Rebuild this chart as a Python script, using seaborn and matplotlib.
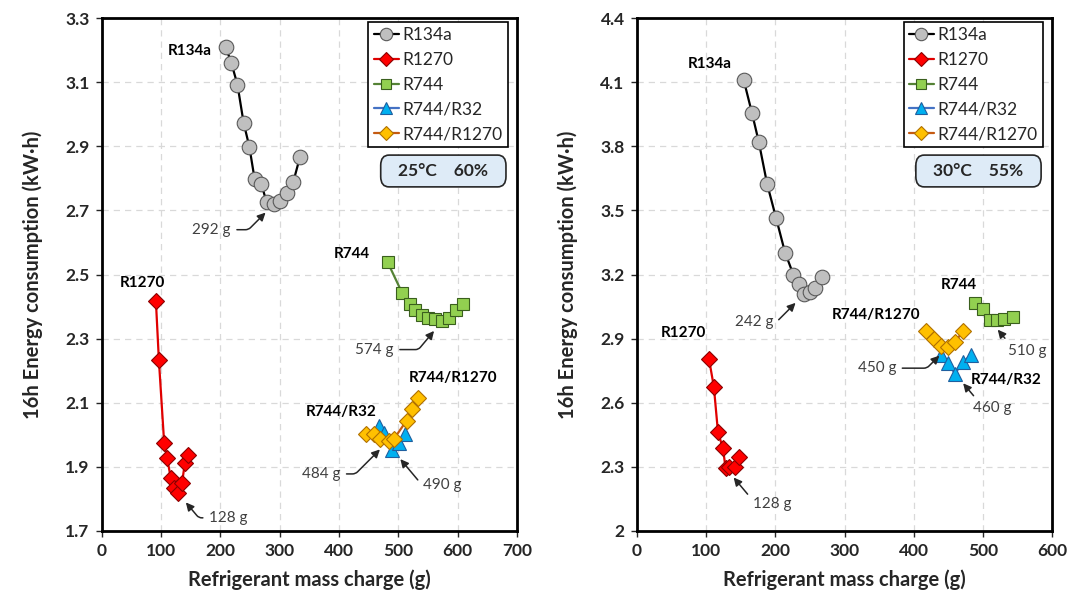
import numpy as np
import pandas as pd
import matplotlib
matplotlib.use("Agg")
import matplotlib.pyplot as plt
import seaborn as sns
from matplotlib.patches import FancyBboxPatch

# ---- data: left panel (25°C, 60%) ----
l_r134a_x = [209, 218.5, 228.6, 239, 248.7, 257.6, 268.9, 277.8, 291, 300, 312.6, 322.7, 334]
l_r134a_y = [3.209, 3.159, 3.093, 2.974, 2.899, 2.798, 2.783, 2.726, 2.721, 2.73, 2.756, 2.788, 2.866]
l_r1270_x = [91, 96, 105, 110, 116, 122, 128, 135, 140, 146]
l_r1270_y = [2.417, 2.234, 1.973, 1.927, 1.866, 1.834, 1.819, 1.849, 1.913, 1.937]
l_r744_x = [482, 507, 520, 529, 540, 551, 562, 574, 585, 598, 610]
l_r744_y = [2.539, 2.441, 2.409, 2.39, 2.375, 2.363, 2.361, 2.354, 2.363, 2.388, 2.407]
l_r32_x = [468, 476, 490, 501, 512]
l_r32_y = [2.027, 2.006, 1.954, 1.975, 2.002]
l_mix_x = [446, 459, 469, 484, 493, 514, 524, 534]
l_mix_y = [2.004, 2.002, 1.986, 1.982, 1.988, 2.044, 2.08, 2.115]

# ---- data: right panel (30°C, 55%) ----
r_r134a_x = [154, 166, 176, 188, 201, 214, 226, 234, 242, 250, 258, 267]
r_r134a_y = [4.113, 3.958, 3.821, 3.625, 3.465, 3.303, 3.2, 3.158, 3.109, 3.119, 3.136, 3.189]
r_r1270_x = [104, 111, 117, 124, 128, 133, 141, 148]
r_r1270_y = [2.804, 2.675, 2.461, 2.389, 2.295, 2.3, 2.301, 2.348]
r_r744_x = [489, 500, 510, 520, 531, 544]
r_r744_y = [3.069, 3.037, 2.987, 2.989, 2.99, 3.001]
r_r32_x = [439, 449, 460, 471, 483]
r_r32_y = [2.822, 2.786, 2.736, 2.791, 2.822]
r_mix_x = [418, 429, 439, 450, 460, 471]
r_mix_y = [2.936, 2.897, 2.868, 2.862, 2.884, 2.934]

names = ["R134a", "R1270", "R744", "R744/R32", "R744/R1270"]
line_colors = ["black", "#E00000", "#548235", "#4472C4", "#C55A11"]
face_colors = ["#BFBFBF", "#FF0000", "#92D050", "#00B0F0", "#FFC000"]
edge_colors = ["#595959", "#8B0000", "#3A5F1E", "#1F5F9F", "#B07000"]
markers = ["o", "D", "s", "^", "D"]
msizes = [10.5, 8, 9, 10, 8]

sns.set_theme(style="white")
plt.rcParams["font.family"] = ["Lato", "DejaVu Sans"]

fig = plt.figure(figsize=(10.69, 6.04), dpi=100)
ax1 = fig.add_axes([0.0954, 0.1209, 0.388, 0.849])
ax2 = fig.add_axes([0.596, 0.1209, 0.388, 0.849])

left = [(l_r134a_x, l_r134a_y), (l_r1270_x, l_r1270_y), (l_r744_x, l_r744_y),
        (l_r32_x, l_r32_y), (l_mix_x, l_mix_y)]
right = [(r_r134a_x, r_r134a_y), (r_r1270_x, r_r1270_y), (r_r744_x, r_r744_y),
         (r_r32_x, r_r32_y), (r_mix_x, r_mix_y)]


def draw(ax, series):
    for i, (xs, ys) in enumerate(series):
        df = pd.DataFrame({"x": xs, "y": ys})
        sns.lineplot(data=df, x="x", y="y", ax=ax, sort=False, color=line_colors[i],
                     lw=1.6, marker=markers[i], markersize=msizes[i],
                     markerfacecolor=face_colors[i], markeredgecolor=edge_colors[i],
                     markeredgewidth=0.8, label=names[i])


def note(ax, xs, ys, txt, tx, ty, angB):
    i = int(np.argmin(ys))
    ax.annotate(txt, xy=(xs[i], ys[i]), xytext=(tx, ty), ha="center", va="center",
                fontsize=11, color="#404040",
                arrowprops=dict(arrowstyle="-|>", color="#262626", lw=1.1,
                                shrinkA=2, shrinkB=9, mutation_scale=12,
                                connectionstyle=f"angle,angleA=0,angleB={angB},rad=3"))


def style(ax, xmax, ylim, yticks, ylabels, cond):
    ax.set_xlim(0, xmax)
    ax.set_ylim(*ylim)
    ax.set_xticks(np.arange(0, xmax + 1, 100))
    ax.set_yticks(yticks)
    ax.set_yticklabels(ylabels)
    ax.grid(True, ls=(0, (5, 4)), color="#D9D9D9", lw=0.9)
    for s in ax.spines.values():
        s.set_color("black")
        s.set_linewidth(2)
    ax.tick_params(labelsize=12.5, colors="#262626", length=4, width=1,
                   direction="out", left=True, bottom=True, pad=5)
    for t in ax.get_xticklabels() + ax.get_yticklabels():
        t.set_fontweight("bold")
    ax.set_xlabel("Refrigerant mass charge (g)", fontsize=14.5, fontweight="bold", labelpad=7)
    ax.set_ylabel("16h Energy consumption (kW·h)", fontsize=14.5, fontweight="bold", labelpad=16)
    leg = ax.legend(loc="upper right", bbox_to_anchor=(0.978, 0.992), frameon=True,
                    fancybox=False, edgecolor="black", framealpha=1, fontsize=12.5,
                    handlelength=1.45, handletextpad=0.2, labelspacing=0.5,
                    borderpad=0.3, borderaxespad=0, markerscale=0.85)
    leg.get_frame().set_linewidth(1.2)
    box = FancyBboxPatch((0.672, 0.671), 0.302, 0.062, transform=ax.transAxes,
                         boxstyle="round,pad=0,rounding_size=0.02",
                         facecolor="#DEEBF7", edgecolor="#262626", lw=1.2, zorder=5)
    ax.add_patch(box)
    ax.text(0.823, 0.702, cond, transform=ax.transAxes, ha="center", va="center",
            fontsize=12.5, fontweight="bold", color="#262626", zorder=6)


draw(ax1, left)
draw(ax2, right)

style(ax1, 700, (1.7, 3.3), np.arange(1.7, 3.31, 0.2),
      ["1.7", "1.9", "2.1", "2.3", "2.5", "2.7", "2.9", "3.1", "3.3"], "25°C    60%")
style(ax2, 600, (2.0, 4.4), np.arange(2.0, 4.41, 0.3),
      ["2", "2.3", "2.6", "2.9", "3.2", "3.5", "3.8", "4.1", "4.4"], "30°C    55%")

lab = dict(fontsize=11, fontweight="bold", color="black", ha="center", va="center")
ax1.text(148, 3.197, "R134a", **lab)
ax1.text(68, 2.475, "R1270", **lab)
ax1.text(422, 2.563, "R744", **lab)
ax1.text(403, 2.072, "R744/R32", **lab)
ax1.text(593, 2.176, "R744/R1270", **lab)

ax2.text(105, 4.185, "R134a", **lab)
ax2.text(67, 2.925, "R1270", **lab)
ax2.text(466, 3.153, "R744", **lab)
ax2.text(346, 3.012, "R744/R1270", **lab)
ax2.text(534, 2.708, "R744/R32", **lab)

note(ax1, l_r134a_x, l_r134a_y, "292 g", 185, 2.64, 45)
note(ax1, l_r744_x, l_r744_y, "574 g", 460, 2.266, 50)
note(ax1, l_mix_x, l_mix_y, "484 g", 370, 1.878, 45)
note(ax1, l_r32_x, l_r32_y, "490 g", 574, 1.843, -50)
note(ax1, l_r1270_x, l_r1270_y, "128 g", 213, 1.741, -50)

note(ax2, r_r134a_x, r_r134a_y, "242 g", 169, 2.978, 45)
note(ax2, r_r1270_x, r_r1270_y, "128 g", 195, 2.125, -50)
note(ax2, r_mix_x, r_mix_y, "450 g", 347, 2.762, 45)
note(ax2, r_r32_x, r_r32_y, "460 g", 513, 2.575, -50)
note(ax2, r_r744_x, r_r744_y, "510 g", 564, 2.844, -50)

fig.savefig("out.png", dpi=100)
